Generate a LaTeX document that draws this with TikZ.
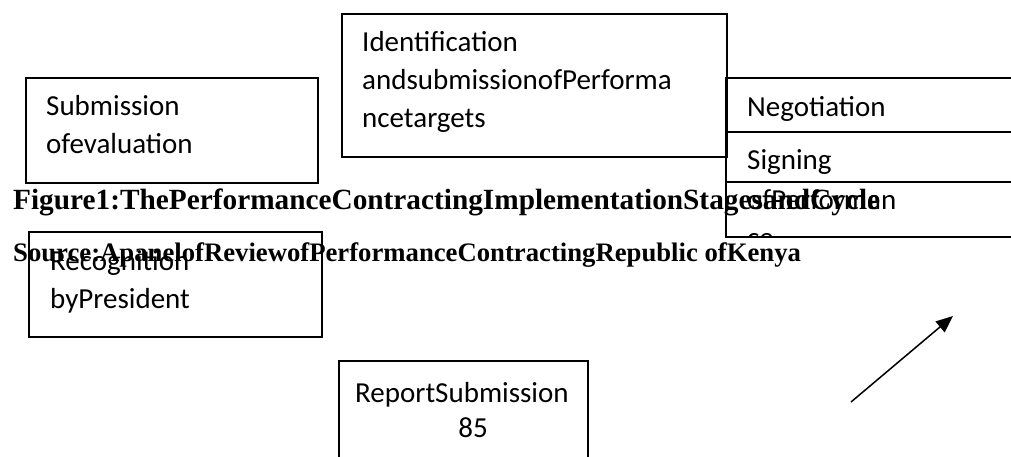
\documentclass[tikz,border=0pt]{standalone}
\usepackage{fontspec}
\setmainfont{Carlito}
\newfontfamily\capfont{Liberation Serif}
\usetikzlibrary{arrows.meta}
\begin{document}
\begin{tikzpicture}[x=1pt,y=-1pt,
  boxstyle/.style={draw=black, line width=1.8pt, rectangle, inner sep=0pt, outer sep=0pt, anchor=north west},
  boxtext/.style={anchor=base west, inner sep=0pt, font=\fontsize{29}{38}\selectfont},
  captext/.style={anchor=base west, inner sep=0pt, font=\capfont\bfseries\fontsize{29.3}{34}\selectfont},
  srctext/.style={anchor=base west, inner sep=0pt, font=\capfont\bfseries\fontsize{26.7}{32}\selectfont},
  arrowline/.style={line width=1.5pt, -{Triangle[length=17pt,width=14pt]}}
]
\useasboundingbox (0,0) rectangle (1011,457);
\clip (0,0) rectangle (1011,457);
\fill[white] (0,0) rectangle (1011,457);

% Submission of evaluation
\node[boxstyle, minimum width=292pt, minimum height=105pt] (sub) at (26,78) {};
\node[boxtext] (subA) at (46,116) {Submission};
\node[boxtext] (subB) at (46,154) {ofevaluation};

% Identification
\node[boxstyle, minimum width=385pt, minimum height=143pt] (ident) at (342,14) {};
\node[boxtext] (identA) at (362,52) {Identification};
\node[boxtext] (identB) at (362,90) {andsubmissionofPerforma};
\node[boxtext] (identC) at (362,128) {ncetargets};

% Right stack
\node[boxstyle, minimum width=304pt, minimum height=54pt] (nego) at (726,78) {};
\node[boxtext] (negoT) at (747,117) {Negotiation};
\node[boxstyle, minimum width=304pt, minimum height=105pt] (sign) at (726,132) {};
\node[boxstyle, minimum width=304pt, minimum height=55pt] (lower) at (726,182) {};
\begin{scope}
\clip (726,132) rectangle (1011,237);
\node[boxtext] (signA) at (747,170) {Signing};
\node[boxtext] (signB) at (747,209) {ofPerforman};
\node[boxtext] (signC) at (747,247) {ce};
\end{scope}

% Captions
\node[captext] (cap) at (13,209) {Figure1:ThePerformanceContractingImplementationStagesandCycle};
\node[srctext] (src) at (13,261) {Source:ApanelofReviewofPerformanceContractingRepublic ofKenya};

% Recognition
\node[boxstyle, minimum width=293pt, minimum height=105pt] (recog) at (29,232) {};
\node[boxtext] (recogA) at (50,270) {Recognition};
\node[boxtext] (recogB) at (50,308) {byPresident};

% Report submission
\node[boxstyle, minimum width=249pt, minimum height=120pt] (report) at (339,361) {};
\node[boxtext] (reportA) at (355,402) {ReportSubmission};
\node[boxtext, anchor=base] (reportB) at (473,437) {85};

% Arrow
\coordinate (arrS) at (851,402);
\coordinate (arrE) at (953,316);
\draw[arrowline] (arrS) -- (arrE);
\end{tikzpicture}
\end{document}
